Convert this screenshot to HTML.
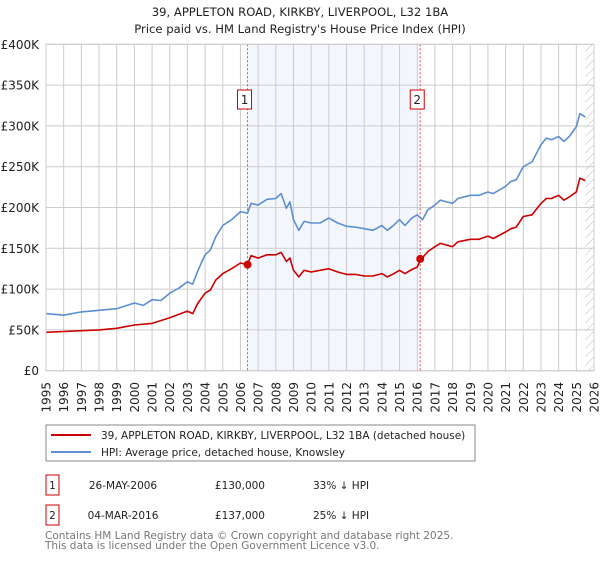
<!DOCTYPE html>
<html><head><meta charset="utf-8"><style>
body{margin:0;background:#fff;font-family:"DejaVu Sans","Liberation Sans",sans-serif;}
svg text{font-family:"DejaVu Sans","Liberation Sans",sans-serif;}
</style></head><body>
<svg id="chart" width="600" height="560" xmlns="http://www.w3.org/2000/svg">
<defs><pattern id="hatch" width="6" height="6" patternUnits="userSpaceOnUse" patternTransform="rotate(45)"><line x1="0" y1="0" x2="0" y2="6" stroke="#bbb" stroke-width="1"/></pattern></defs>
<text x="300" y="16" text-anchor="middle" font-size="11.6" fill="#222">39, APPLETON ROAD, KIRKBY, LIVERPOOL, L32 1BA</text>
<text x="300" y="33" text-anchor="middle" font-size="11.6" fill="#222">Price paid vs. HM Land Registry's House Price Index (HPI)</text>
<g id="plot"></g>
<rect x="46" y="425" width="429" height="36" fill="#fff" stroke="#888"/>
<line x1="51" y1="435" x2="91" y2="435" stroke="#cc0000" stroke-width="2"/>
<text x="101" y="439" font-size="10.5" fill="#222">39, APPLETON ROAD, KIRKBY, LIVERPOOL, L32 1BA (detached house)</text>
<line x1="51" y1="452" x2="91" y2="452" stroke="#5b8fd1" stroke-width="2"/>
<text x="101" y="456" font-size="10.5" fill="#222">HPI: Average price, detached house, Knowsley</text>
<g>
<rect x="46" y="475" width="13" height="20" fill="#fff" stroke="#cc0000"/>
<text x="52.5" y="489" text-anchor="middle" font-size="10.5" fill="#222">1</text>
<text x="123" y="489" text-anchor="middle" font-size="10.5" fill="#222">26-MAY-2006</text>
<text x="265" y="489" text-anchor="end" font-size="10.5" fill="#222">£130,000</text>
<text x="313" y="489" font-size="10.5" fill="#222">33% ↓ HPI</text>
</g>
<g>
<rect x="46" y="505" width="13" height="20" fill="#fff" stroke="#cc0000"/>
<text x="52.5" y="519" text-anchor="middle" font-size="10.5" fill="#222">2</text>
<text x="123" y="519" text-anchor="middle" font-size="10.5" fill="#222">04-MAR-2016</text>
<text x="265" y="519" text-anchor="end" font-size="10.5" fill="#222">£137,000</text>
<text x="313" y="519" font-size="10.5" fill="#222">25% ↓ HPI</text>
</g>
<text x="45" y="539" font-size="10.5" fill="#777">Contains HM Land Registry data © Crown copyright and database right 2025.</text>
<text x="45" y="549" font-size="10.5" fill="#777">This data is licensed under the Open Government Licence v3.0.</text>
</svg>
<script>
const hpiYears=[1995,1996,1997,1998,1999,2000,2000.5,2001,2001.5,2002,2002.5,2003,2003.3,2003.6,2004,2004.3,2004.6,2005,2005.5,2006,2006.4,2006.6,2007,2007.5,2008,2008.3,2008.6,2008.8,2009,2009.3,2009.6,2010,2010.5,2011,2011.5,2012,2012.5,2013,2013.5,2014,2014.3,2014.6,2015,2015.3,2015.7,2016,2016.3,2016.6,2017,2017.3,2018,2018.3,2019,2019.5,2020,2020.3,2021,2021.3,2021.6,2022,2022.5,2023,2023.3,2023.6,2024,2024.3,2024.6,2025,2025.2,2025.5];
const hpiValues=[70,68,72,74,76,83,80,87,86,95,101,109,106,123,142,148,164,178,185,195,193,205,203,210,211,217,199,207,185,172,183,181,181,187,181,177,176,174,172,178,172,177,185,178,187,191,185,197,203,209,205,211,215,215,219,217,226,232,234,250,256,277,285,283,287,281,287,299,315,311];
const propYears=[1995,1996,1997,1998,1999,2000,2001,2002,2003,2003.3,2003.6,2004,2004.3,2004.6,2005,2005.5,2006,2006.4,2006.6,2007,2007.5,2008,2008.3,2008.6,2008.8,2009,2009.3,2009.6,2010,2010.5,2011,2011.5,2012,2012.5,2013,2013.5,2014,2014.3,2014.6,2015,2015.3,2015.7,2016,2016.2,2016.6,2017,2017.3,2018,2018.3,2019,2019.5,2020,2020.3,2021,2021.3,2021.6,2022,2022.5,2023,2023.3,2023.6,2024,2024.3,2024.6,2025,2025.2,2025.5];
const propValues=[47,48,49,50,52,56,58,65,73,70,83,95,99,111,119,125,132,130,141,138,142,142,145,134,138,123,115,123,121,123,125,121,118,118,116,116,119,115,118,123,119,124,127,136,146,152,156,152,158,161,161,165,162,170,174,176,189,191,205,211,211,215,209,213,219,236,233];
const saleYears=[2006.4,2016.17];
const saleValues=[130,137];
const saleLabels=["1","2"];
const yTicks=[0,50,100,150,200,250,300,350,400];
const yTickLabels=["£0","£50K","£100K","£150K","£200K","£250K","£300K","£350K","£400K"];
const xTicks=[1995,1996,1997,1998,1999,2000,2001,2002,2003,2004,2005,2006,2007,2008,2009,2010,2011,2012,2013,2014,2015,2016,2017,2018,2019,2020,2021,2022,2023,2024,2025,2026];

const X0=46,X1=594,Y0=370.7,Y1=44.3;
const xs=y=>X0+(y-1995)*(X1-X0)/31;
const ys=v=>Y0-v*(Y0-Y1)/400;
const NS="http://www.w3.org/2000/svg";
const g=document.getElementById('plot');
function mk(t,a){const e=document.createElementNS(NS,t);for(const k in a)e.setAttribute(k,a[k]);g.appendChild(e);return e;}
let e;
e=mk('rect',{x:xs(saleYears[0]),y:Y1,width:xs(saleYears[1])-xs(saleYears[0]),height:Y0-Y1,fill:'#eef3fc',opacity:0.7});


e=mk('rect',{x:xs(2025.5),y:Y1,width:X1-xs(2025.5),height:Y0-Y1,fill:'url(#hatch)'});


xTicks.forEach((t,i)=>{
 e=mk('line',{x1:xs(t),x2:xs(t),y1:Y1,y2:Y0,stroke:'#ccc','stroke-width':1});
 
 
 const tx=xs(t)+4.5,ty=382;
 e=mk('text',{x:tx,y:ty,'text-anchor':'end','font-size':12,fill:'#222',transform:'rotate(-90 '+tx+' '+ty+')'});e.textContent=t;
 
 
});
yTicks.forEach((t,i)=>{
 e=mk('line',{x1:X0,x2:X1,y1:ys(t),y2:ys(t),stroke:'#ccc','stroke-width':1});
 
 
 e=mk('text',{x:39,y:ys(t)+4.5,'text-anchor':'end','font-size':12,fill:'#222'});e.textContent=yTickLabels[i];
 
 
});
saleYears.forEach((s,i)=>{
 e=mk('line',{x1:xs(s),x2:xs(s),y1:Y1,y2:Y0,stroke:'#e05050','stroke-width':1,'stroke-dasharray':'2,2'});
 
 
});
function path(xa,va,col,name){
 const d=xa.map((x,i)=>(i?'L':'M')+xs(x).toFixed(1)+','+ys(va[i]).toFixed(1)).join('');
 e=mk('path',{d:d,fill:'none',stroke:col,'stroke-width':1.6,'stroke-linejoin':'round'});
 
 
}
path(hpiYears,hpiValues,'#5b8fd1','hpi-line');
path(propYears,propValues,'#cc0000','property-price-line');
saleYears.forEach((s,i)=>{
 e=mk('circle',{cx:xs(s),cy:ys(saleValues[i]),r:4,fill:'#cc0000'});
 
 
 const bx=xs(s)-7-3;
 e=mk('rect',{x:bx,y:90,width:14,height:19,fill:'#fff',stroke:'#cc0000'});
 
 
 e=mk('text',{x:bx+7,y:104,'text-anchor':'middle','font-size':12,fill:'#222'});e.textContent=saleLabels[i];
 
 
});
e=mk('rect',{x:X0,y:Y1,width:X1-X0,height:Y0-Y1,fill:'none',stroke:'#ccc'});


</script>
</body></html>
